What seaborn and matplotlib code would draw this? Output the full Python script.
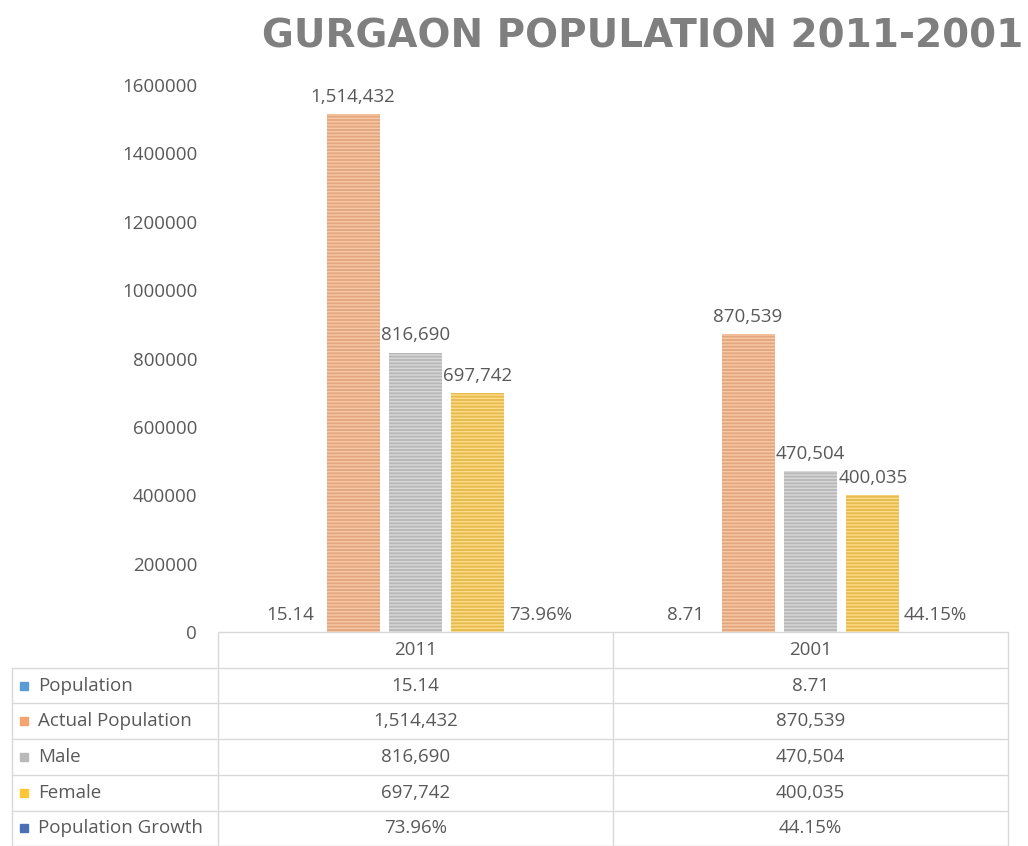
import numpy as np
import pandas as pd
import seaborn as sns
import matplotlib.pyplot as plt
import matplotlib.ticker as mticker

#### Data ####
years = ['2011', '2001']
series = ['Population', 'Actual Population', 'Male', 'Female', 'Population Growth']
population = [15.14, 8.71]
actual_population = [1514432, 870539]
male = [816690, 470504]
female = [697742, 400035]
population_growth = [73.96, 44.15]  # percent

colors = ['#5B9BD5', '#F4A470', '#B9B9B9', '#FFC637', '#4A6FB5']
stripe_colors = ['#8DB9E2', '#F9C8A6', '#D8D8D8', '#FFDC85', '#7F98CB']
text_col = '#595959'
line_col = '#D9D9D9'
fs = 13.5

values = [population, actual_population, male, female, population_growth]
labels = [
    [f'{v:.2f}' for v in population],
    [f'{v:,}' for v in actual_population],
    [f'{v:,}' for v in male],
    [f'{v:,}' for v in female],
    [f'{v:.2f}%' for v in population_growth],
]

rows = []
for s, vals in zip(series, values):
    for y, v in zip(years, vals):
        rows.append({'Year': y, 'Series': s, 'Value': v})
df = pd.DataFrame(rows)

#### Plot ####
sns.set_style('white')
plt.rcParams['font.family'] = ['Open Sans', 'DejaVu Sans']

fig = plt.figure(figsize=(10.28, 8.46), dpi=100)
ax = fig.add_axes([218 / 1028, 1 - 632 / 846, 790 / 1028, 547 / 846])

sns.barplot(data=df, x='Year', y='Value', hue='Series', order=years,
            hue_order=series, palette=colors, width=0.79, gap=0.15,
            legend=False, ax=ax)

# horizontal stripes like the Excel fill
plt.rcParams['hatch.linewidth'] = 1.0
for cont, sc in zip(ax.containers, stripe_colors):
    for bar in cont:
        bar.set_hatch('-----')
        bar.set_edgecolor(sc)
        bar.set_linewidth(0)

for cont, lab in zip(ax.containers, labels):
    ax.bar_label(cont, labels=lab, padding=6, fontsize=fs, color=text_col)

ax.set_xlim(-0.5, 1.5)
ax.set_ylim(0, 1600000)
ax.set_yticks(np.arange(0, 1600001, 200000))
ax.yaxis.set_major_formatter(mticker.FuncFormatter(lambda v, p: f'{int(v)}'))
ax.tick_params(axis='y', length=0, pad=15, labelsize=fs, labelcolor=text_col)
ax.set_xticks([])
ax.set_xlabel('')
ax.set_ylabel('')
for sp in ax.spines.values():
    sp.set_visible(False)

#### Data table ####
row_h = 35.7 / 547
x_left = -0.5 - 206 / 395
tr = ax.get_xaxis_transform()
kw = dict(color=line_col, lw=1, clip_on=False, transform=tr)
# top line (axis) and horizontal row lines
ax.plot([-0.5, 1.5], [0, 0], **kw)
for i in range(1, 7):
    ax.plot([x_left, 1.5], [-i * row_h, -i * row_h], **kw)
# vertical lines
ax.plot([x_left, x_left], [-row_h, -6 * row_h], **kw)
for xv in [-0.5, 0.5, 1.5]:
    ax.plot([xv, xv], [0, -6 * row_h], **kw)

for j, y in enumerate(years):
    ax.text(j, -0.5 * row_h, y, ha='center', va='center', fontsize=fs,
            color=text_col, transform=tr)
for i, (s, lab) in enumerate(zip(series, labels)):
    yc = -(i + 1.5) * row_h
    ax.plot([x_left + 12 / 395], [yc], marker='s', markersize=6,
            color=colors[i], clip_on=False, transform=tr)
    ax.text(x_left + 26 / 395, yc, s, ha='left', va='center', fontsize=fs,
            color=text_col, transform=tr)
    for j in range(len(years)):
        ax.text(j, yc, lab[j], ha='center', va='center', fontsize=fs,
                color=text_col, transform=tr)

#### Title ####
fig.text(262 / 1028, 1 - 37 / 846, 'GURGAON POPULATION 2011-2001',
         ha='left', va='center', fontsize=28, fontweight='bold',
         color='#7F7F7F', family='DejaVu Sans')

fig.savefig('out.png', dpi=100)
